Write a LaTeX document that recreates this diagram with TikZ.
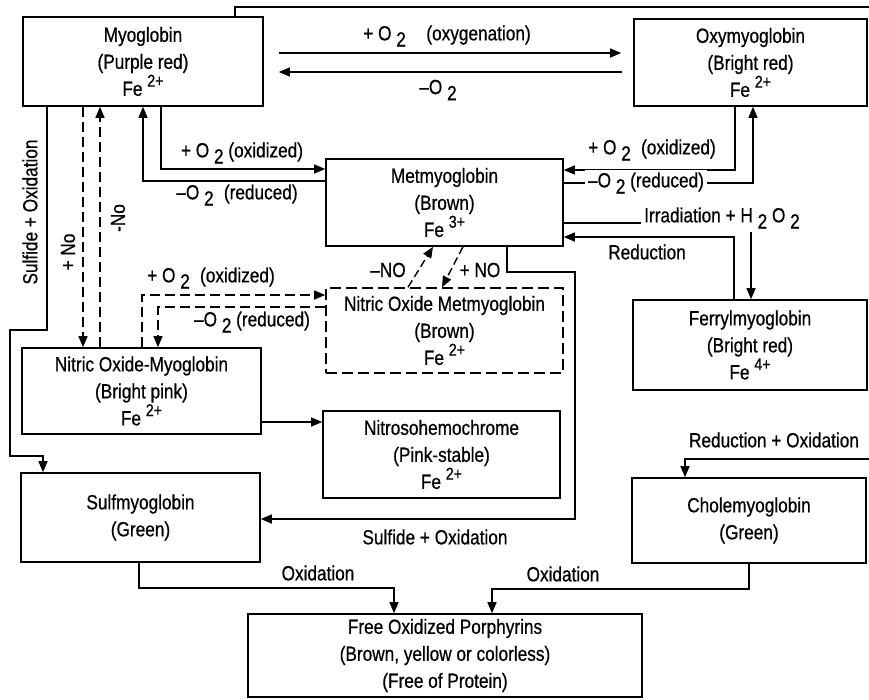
\documentclass[tikz,border=0pt]{standalone}
\usepackage{fontspec}
\setmainfont{Liberation Sans}[FakeStretch=0.84,FakeBold=0.6]
\usetikzlibrary{arrows.meta}
\newcommand\upx[1]{\raisebox{0.45em}{\fontsize{17}{17}\selectfont #1}}
\newcommand\dnx[1]{\raisebox{-0.3em}{#1}}
\begin{document}
\begin{tikzpicture}[x=1pt,y=-1pt,
  every node/.style={font=\fontsize{20.5}{27}\selectfont, inner sep=1pt},
  box/.style={draw, line width=1.6pt, align=center, inner sep=0pt},
  dbox/.style={box, dash pattern=on 11pt off 5pt},
  ln/.style={line width=1.4pt},
  arr/.style={line width=1.4pt, -{Triangle[length=11pt,width=9pt]}},
  dsh/.style={dash pattern=on 10pt off 5pt},
  wlbl/.style={fill=white, inner sep=3pt}]
\useasboundingbox (0,0) rectangle (869,699);

% boxes
\node[box, minimum width=240pt, minimum height=89pt] (myo) at (143,61.5) {Myoglobin\\(Purple red)\\Fe \upx{2+}};
\node[box, minimum width=233pt, minimum height=87pt] (oxy) at (750.5,62.5) {Oxymyoglobin\\(Bright red)\\Fe \upx{2+}};
\node[box, minimum width=237pt, minimum height=87pt] (met) at (444.5,202.5) {Metmyoglobin\\(Brown)\\Fe \upx{3+}};
\node[box, minimum width=234pt, minimum height=90pt] (ferry) at (750,345) {Ferrylmyoglobin\\(Bright red)\\Fe \upx{4+}};
\node[dbox, minimum width=237pt, minimum height=85pt] (nomet) at (444.5,330.5) {Nitric Oxide Metmyoglobin\\(Brown)\\Fe \upx{2+}};
\node[box, minimum width=239pt, minimum height=86pt] (nomyo) at (141.5,391) {Nitric Oxide-Myoglobin\\(Bright pink)\\Fe \upx{2+}};
\node[box, minimum width=237pt, minimum height=87pt] (nitroso) at (441.5,454.5) {Nitrosohemochrome\\(Pink-stable)\\Fe \upx{2+}};
\node[box, minimum width=239pt, minimum height=89pt] (sulf) at (140.5,517.5) {Sulfmyoglobin\\(Green)};
\node[box, minimum width=234pt, minimum height=85pt] (chole) at (749,520.5) {Cholemyoglobin\\(Green)};
\node[box, minimum width=394pt, minimum height=83pt] (free) at (445,655.5) {Free Oxidized Porphyrins\\(Brown, yellow or colorless)\\(Free of Protein)};

\coordinate (tr) at (869,7);
\coordinate (rr) at (869,459);

% top line
\draw[ln] (235,0 |- myo.north) -- (235,7) -- (tr);

% oxygenation
\draw[arr, shorten <=15pt, shorten >=12pt] (myo.east |- 0,53) -- (oxy.west |- 0,53);
\draw[arr, shorten <=11pt, shorten >=15pt] (oxy.west |- 0,72) -- (myo.east |- 0,72);
\node at (447,36) {+ O \dnx{2}\quad(oxygenation)};
\node at (438,90) {–O \dnx{2}};

% myoglobin <-> metmyoglobin
\draw[arr] (161,0 |- myo.south) |- (met.west |- 0,169);
\draw[arr] (met.west |- 0,181) -| (143,0 |- myo.south);
\node at (242,153) {+ O \dnx{2} (oxidized)};
\node at (237,195) {–O \dnx{2}\enspace(reduced)};

% oxymyoglobin <-> metmyoglobin
\draw[arr] (735,0 |- oxy.south) |- (met.east |- 0,170);
\draw[arr] (met.east |- 0,183) -| (753,0 |- oxy.south);
\node at (652,150) {+ O \dnx{2}\enspace(oxidized)};
\node[wlbl] at (646,183) {–O \dnx{2} (reduced)};

% irradiation / reduction
\draw[arr] (met.east |- 0,223) -| (751,0 |- ferry.north);
\node[wlbl] at (722,218) {Irradiation + H \dnx{2} O \dnx{2}};
\draw[arr] (734,0 |- ferry.north) |- (met.east |- 0,237);
\node at (647,252) {Reduction};

% cholemyoglobin
\draw[arr] (rr) -| (685,0 |- chole.north);
\node at (774,440) {Reduction + Oxidation};

% NO to/from myoglobin
\draw[arr, dsh] (83,0 |- myo.south) -- (83,0 |- nomyo.north);
\draw[arr, dsh] (100,0 |- nomyo.north) -- (100,0 |- myo.south);
\node[rotate=90] at (68,252) {+ No};
\node[rotate=90] at (118,218) {-No};

% sulfide left
\draw[arr] (47,0 |- myo.south) -- (47,330) -- (10,330) -- (10,456) -- (43,456) -- (43,0 |- sulf.north);
\node[rotate=90] at (30,212) {Sulfide + Oxidation};

% NO-myo <-> NO-met
\draw[arr, dsh] (142,0 |- nomyo.north) |- (nomet.west |- 0,295);
\draw[arr, dsh] (nomet.west |- 0,307) -| (158,0 |- nomyo.north);
\node at (211,278) {+ O \dnx{2}\enspace(oxidized)};
\node at (252,322) {–O \dnx{2} (reduced)};

% met <-> NO met
\draw[arr, dash pattern=on 8pt off 4pt] (408,0 |- nomet.north) -- (433,0 |- met.south);
\draw[arr, dash pattern=on 8pt off 4pt] (463,0 |- met.south) -- (442,0 |- nomet.north);
\node at (388,270) {–NO};
\node at (480,270) {+ NO};

% met -> sulf
\draw[arr] (507,0 |- met.south) |- (575,272) |- (sulf.east |- 0,519);
\node at (435,537) {Sulfide + Oxidation};

% NO-myo -> nitroso
\draw[arr] (nomyo.east |- 0,422) -- (nitroso.west |- 0,422);

% oxidation to free
\draw[arr] (139,0 |- sulf.south) |- (394,588) -- (394,0 |- free.north);
\draw[arr] (749,0 |- chole.south) |- (492,589) -- (492,0 |- free.north);
\node at (318,573) {Oxidation};
\node at (563,574) {Oxidation};
\end{tikzpicture}
\end{document}
